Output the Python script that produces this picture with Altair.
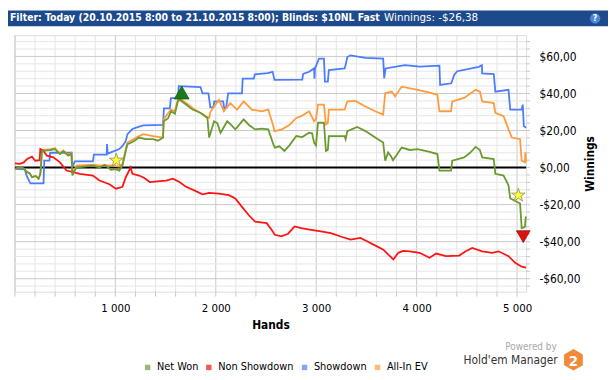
import altair as alt
import pandas as pd

# ---------------- data ----------------
SERIES = ["Net Won", "Non Showdown", "Showdown", "All-In EV"]
COLORS = ["#6b9a2e", "#ff1414", "#4a7cff", "#ff9b3d"]

net_hands = [0, 49, 88, 121, 147, 170, 206, 236, 253, 261, 269, 305, 351, 400, 423, 449, 482, 531, 563, 573,
             590, 613, 688, 777, 842, 895, 956, 1003, 1039, 1071, 1104, 1121, 1160, 1187, 1236, 1300, 1376, 1425,
             1475, 1481, 1524, 1556, 1593, 1622, 1639, 1704, 1769, 1851, 1917, 1934, 1983, 2015, 2048, 2114, 2153,
             2195, 2278, 2330, 2392, 2457, 2523, 2573, 2588, 2634, 2684, 2733, 2802, 2861, 2929, 2959, 2979, 2998,
             3018, 3077, 3097, 3116, 3126, 3283, 3293, 3310, 3408, 3490, 3588, 3667, 3687, 3716, 3746, 3765, 3851,
             3933, 4011, 4129, 4207, 4227, 4342, 4355, 4473, 4532, 4588, 4630, 4653, 4768, 4784, 4866, 4915, 4932,
             4964, 5030, 5046, 5079, 5085, 5090]
net_vals = [-0.7, 0, -0.5, -2.5, -3, -5.2, -4.5, -6, -3.4, 2, 9, 9.2, 9.4, 10, 8.5, 7.3, 8.8, 6.4, 7.5, -4.3,
            -2, 0, 0.5, 1, 0, 1.5, -1.2, -0.8, -1.6, 1, 9, 12.6, 13.5, 14.4, 16.2, 15.3, 15.3, 14.5,
            16.2, 25, 26.5, 30.4, 29, 35.7, 36.6, 34, 31.3, 29.5, 26.8, 16.2, 25, 24, 18.8, 25, 23,
            20.6, 26, 23, 20.6, 21, 20.6, 12.6, 10.8, 11.5, 9, 12, 17, 16.5, 18.8, 18.5, 13.5, 12,
            24.2, 24.2, 9, 9.5, 17, 17, 15.3, 19.7, 21.9, 19.7, 16.2, 13.5, 3.7, 8.2, 6, 4, 10.8,
            9.5, 10, 8.5, 7.3, -1.6, -1.6, 3.7, 5.5, 8, 11.2, 9.5, 5.5, 4.6, -3.4, -4.3, -9.6, -16.7,
            -17.5, -19.4, -32.7, -32, -27.4, -26.4]

nsd_hands = [0, 49, 88, 121, 170, 203, 246, 253, 285, 318, 383, 449, 514, 580, 646, 777, 842, 941, 1006, 1071,
             1104, 1153, 1170, 1236, 1285, 1344, 1442, 1507, 1573, 1639, 1704, 1786, 1868, 1934, 2032, 2130,
             2195, 2261, 2327, 2392, 2507, 2556, 2588, 2654, 2720, 2785, 2851, 2949, 3047, 3146, 3244, 3342,
             3440, 3506, 3571, 3669, 3768, 3817, 3866, 3932, 4030, 4129, 4194, 4293, 4424, 4489, 4554, 4653,
             4751, 4817, 4915, 4981, 5046, 5090]
nsd_vals = [2.3, 2, 2.8, 4.6, 5.9, 3.7, 4, 10, 9, 6.4, 5.5, 2.8, -1.6, -2.5, -3.4, -4.3, -7, -9, -11.4, -10.4,
            -5.2, 0, -3.4, -4.3, -5.5, -7.8, -7.3, -7, -6, -7.8, -10.4, -12.3, -14.4, -13.7, -14, -14.9,
            -16.7, -21.2, -25.6, -29.2, -30, -33.6, -36.3, -37.1, -35.7, -31.8, -32.7, -33.6, -34.5, -35.4, -37.2, -38.9,
            -38, -39.8, -41.6, -44.3, -49.6, -46, -45, -45.2, -46, -48.7, -46.4, -47.8, -47.5, -45.2, -43.4, -45.2,
            -46, -45.2, -47.8, -51.4, -53.5, -54]

sd_hands = [0, 98, 118, 154, 285, 292, 344, 351, 563, 573, 597, 777, 786, 914, 917, 924, 1039, 1071, 1101, 1121,
            1170, 1229, 1278, 1475, 1484, 1543, 1553, 1622, 1632, 1848, 1868, 1927, 1946, 1976, 1986, 2074, 2084,
            2104, 2123, 2261, 2268, 2379, 2389, 2517, 2566, 2585, 2861, 2870, 2929, 2979, 2983, 2988, 3028, 3077,
            3087, 3116, 3126, 3283, 3293, 3310, 3342, 3490, 3667, 3677, 3691, 3883, 4030, 4227, 4234, 4345, 4374,
            4404, 4620, 4650, 4653, 4768, 4784, 4915, 4932, 5046, 5057, 5067, 5090]
sd_vals = [-0.7, -1, -4.5, -8.5, -8.5, 3.7, 3.7, 8, 8, 0.5, 3.4, 3.4, 7, 7, 12.7, 7.5, 10, 11.7, 14, 18,
           20.8, 22, 22.8, 23, 32, 32, 37.5, 37.5, 44, 43.5, 40, 40, 32.5, 32.5, 35.7, 35.7, 32,
           32.5, 40, 40, 48, 48, 50.3, 51, 51.7, 47.3, 47.5, 50.5, 51.7, 53.5, 48, 53.5, 58.8, 58.8,
           46.4, 46.4, 52.6, 53.5, 55.3, 59.7, 60.6, 59.2, 58.8, 48.2, 53.5, 55.3, 54.5, 55, 44.6, 45.5, 50,
           52, 54.4, 55.3, 50.8, 50.5, 41, 42, 31.3, 31.3, 34, 22.4, 21.5]

ev_hands = [0, 49, 88, 121, 147, 170, 206, 236, 253, 261, 269, 305, 351, 400, 423, 449, 482, 531, 563, 573,
            613, 777, 836, 953, 1039, 1071, 1104, 1121, 1187, 1236, 1278, 1376, 1475, 1481, 1553, 1593, 1622,
            1639, 1701, 1769, 1848, 1934, 1946, 1983, 2032, 2081, 2143, 2212, 2278, 2359, 2457, 2523, 2573,
            2585, 2654, 2733, 2802, 2861, 2929, 2979, 2998, 3018, 3077, 3097, 3116, 3126, 3283, 3293, 3310,
            3391, 3490, 3588, 3667, 3687, 3752, 3785, 3851, 4011, 4129, 4207, 4227, 4342, 4355, 4473, 4588,
            4630, 4653, 4768, 4784, 4866, 4915, 4948, 5030, 5046, 5079, 5082, 5090]
ev_vals = [-0.7, 0, -0.5, -2.5, -3, -5.2, -4.5, -6, -3.4, 2, 9.5, 9.7, 9.9, 10.5, 9, 7.8, 9.3, 6.9, 8, -3.5,
           1, 1.6, 1.2, 1.2, 0.5, 2, 10, 13.5, 15.5, 17, 18, 17, 16.2, 26, 31.3, 30.5, 36.6,
           37.5, 35, 32.2, 29.5, 26.8, 30, 33, 36.6, 30.4, 34.8, 31.3, 35.7, 31.3, 30.4, 31.3, 22.4,
           19.7, 20.5, 23, 26.8, 28, 30.4, 25, 26, 34, 34, 23.3, 24, 31.3, 31.3, 33, 35.7,
           36, 33, 30.4, 28.6, 40.2, 41, 38.4, 43.7, 42, 40.5, 39.3, 30.4, 30.4, 35.7, 37.6, 42,
           41, 35.7, 34.8, 29.5, 27.7, 20.6, 16.2, 15.3, 3.7, 2.8, 8.2, 3]

# event markers: green up-triangle, yellow stars, red down-triangle
marker_kinds = ["up", "star", "star", "down"]
marker_hands = [1661, 1010, 5013, 5062]
marker_vals = [40.5, 3.9, -15, -37.3]

x_ticks = list(range(0, 5001, 200))      # minor grid / ticks
y_ticks = list(range(-64, 69, 4))
x_labels = [1000, 2000, 3000, 4000, 5000]  # labelled (major) values
y_labels = [-60, -40, -20, 0, 20, 40, 60]

TITLE_BOLD = "Filter: Today (20.10.2015 8:00 to 21.10.2015 8:00); Blinds: $10NL Fast"
TITLE_NORMAL = "Winnings: -$26,38"

# ---------------- frames ----------------
rows = []
for name, hs, vs in [("Net Won", net_hands, net_vals), ("Non Showdown", nsd_hands, nsd_vals),
                     ("Showdown", sd_hands, sd_vals), ("All-In EV", ev_hands, ev_vals)]:
    for h, v in zip(hs, vs):
        rows.append({"hand": h, "value": v, "series": name})
df = pd.DataFrame(rows)
mk = pd.DataFrame({"kind": marker_kinds, "hand": marker_hands, "value": marker_vals})

FONT = "DejaVu Sans Condensed"
W, H = 518, 260

xscale = alt.Scale(domain=[0, 5090], nice=False, zero=False)
yscale = alt.Scale(domain=[-67, 71.5], nice=False, zero=False)
cscale = alt.Scale(domain=SERIES, range=COLORS)

xaxis = alt.Axis(
    values=x_labels, title="Hands", titleFont=FONT, titleFontSize=12, titleFontWeight="bold",
    titleColor="#000", titlePadding=6, grid=False, labelOverlap=False, ticks=False,
    labelExpr="replace(format(datum.value, ','), ',', ' ')",
    labelFont=FONT, labelFontSize=11.5, labelColor="#000", labelPadding=11, domain=False,
)
yaxis = alt.Axis(
    values=y_labels, orient="right", title="Winnings", titleFont=FONT, titleFontSize=12,
    titleFontWeight="bold", titleColor="#000", titleAngle=270, titleX=64, titleY=130,
    titleAlign="center", titleBaseline="middle", grid=False, labelOverlap=False, ticks=False,
    labelExpr="(datum.value < 0 ? '-' : '') + '$' + format(abs(datum.value), 'd') + ',00'",
    labelFont=FONT, labelFontSize=12, labelColor="#000", labelPadding=13, domain=False,
)

base = alt.Chart(df).encode(
    x=alt.X("hand:Q", scale=xscale, axis=xaxis),
    y=alt.Y("value:Q", scale=yscale, axis=yaxis),
)

# grid lines and small tick marks from the tick lists (major every 1000 hands / $20)
gx = alt.Chart(pd.DataFrame({"hand": x_ticks}))
gy = alt.Chart(pd.DataFrame({"value": y_ticks}))
grid_x = gx.mark_rule(strokeWidth=1).encode(
    x=alt.X("hand:Q", scale=xscale, axis=xaxis),
    color=alt.condition("datum.hand % 1000 === 0", alt.value("#c9c9c9"), alt.value("#e6e6e6")))
grid_y = gy.mark_rule(strokeWidth=1).encode(
    y=alt.Y("value:Q", scale=yscale, axis=yaxis),
    color=alt.condition("datum.value % 20 === 0", alt.value("#c9c9c9"), alt.value("#e6e6e6")))
tick_x = gx.mark_rule(strokeWidth=1, color="#c8c8c8").encode(
    x=alt.X("hand:Q", scale=xscale, axis=xaxis), y=alt.value(H), y2=alt.value(H + 5))
tick_y = gy.mark_rule(strokeWidth=1, color="#c8c8c8").encode(
    y=alt.Y("value:Q", scale=yscale, axis=yaxis), x=alt.value(W), x2=alt.value(W + 4))

one = alt.Data(values=[{"a": 1}])
zero_line = alt.Chart(one).mark_rule(color="#000", strokeWidth=2).encode(y=alt.datum(0, scale=yscale))

line_layers = []
for name in ["Showdown", "All-In EV", "Non Showdown", "Net Won"]:
    line_layers.append(
        base.transform_filter(alt.datum.series == name)
        .mark_line(strokeWidth=1.8, interpolate="linear")
        .encode(color=alt.Color("series:N", scale=cscale, legend=None))
    )

legend_layer = base.transform_filter("false").mark_point(filled=True, shape="square").encode(
    fill=alt.Fill("series:N", scale=alt.Scale(domain=SERIES, range=["#6a9a3a", "#ee1111", "#4f7ff0", "#ffa040"]),
                  legend=alt.Legend(orient="none", legendX=129, legendY=331, direction="horizontal", title=None,
                                    symbolType="square", symbolSize=30, symbolStrokeWidth=0,
                                    labelFont=FONT, labelFontSize=11, labelColor="#000",
                                    labelOffset=4, columnPadding=5))
)

STAR = "M0,-1L0.2245,-0.309L0.951,-0.309L0.363,0.118L0.588,0.809L0,0.382L-0.588,0.809L-0.363,0.118L-0.951,-0.309L-0.2245,-0.309Z"
mbase = alt.Chart(mk).encode(x=alt.X("hand:Q", scale=xscale), y=alt.Y("value:Q", scale=yscale))
up = mbase.transform_filter(alt.datum.kind == "up").mark_point(
    shape="triangle-up", filled=True, size=225, color="#1b7a1b", stroke="#0f5a0f", strokeWidth=0.8, opacity=1)
down = mbase.transform_filter(alt.datum.kind == "down").mark_point(
    shape="triangle-down", filled=True, size=190, color="#e01010", stroke="#901010", strokeWidth=0.8, opacity=1)
star = mbase.transform_filter(alt.datum.kind == "star").mark_point(
    shape=STAR, filled=True, size=210, color="#ffff30", stroke="#8a8a60", strokeWidth=0.8, opacity=1)

# ---------------- decorations ----------------
band = alt.Chart(one).mark_rect(color="#1d4a8c").encode(
    x=alt.value(-7), x2=alt.value(601), y=alt.value(-25), y2=alt.value(-9))
t_bold = alt.Chart(one).mark_text(text=TITLE_BOLD, font=FONT, fontSize=10.5, fontWeight="bold", color="#fff",
                                  align="left", baseline="middle").encode(x=alt.value(-5), y=alt.value(-17))
t_norm = alt.Chart(one).mark_text(text=TITLE_NORMAL, font="DejaVu Sans", fontSize=10.5, color="#fff",
                                  align="left", baseline="middle").encode(x=alt.value(374), y=alt.value(-17))
help_c = alt.Chart(one).mark_point(shape="circle", filled=True, size=110, color="#4d86d6", opacity=1).encode(
    x=alt.value(588), y=alt.value(-17))
help_t = alt.Chart(one).mark_text(text="?", font=FONT, fontSize=9, fontWeight="bold", color="#fff",
                                  baseline="middle").encode(x=alt.value(588), y=alt.value(-17))

HEX = "M0,-1L0.866,-0.5L0.866,0.5L0,1L-0.866,0.5L-0.866,-0.5Z"
powered = alt.Chart(one).mark_text(text="Powered by", font=FONT, fontSize=10, color="#a8a8a8",
                                  align="right", baseline="middle").encode(x=alt.value(549), y=alt.value(316))
hm = alt.Chart(one).mark_text(text="Hold'em Manager", font=FONT, fontSize=12, color="#333",
                              align="right", baseline="middle").encode(x=alt.value(550), y=alt.value(329))
hexa = alt.Chart(one).mark_point(shape=HEX, filled=True, size=480, color="#f08a3a", opacity=1).encode(
    x=alt.value(566), y=alt.value(329))
two = alt.Chart(one).mark_text(text="2", font=FONT, fontSize=15, fontWeight="bold", color="#fff",
                               baseline="middle").encode(x=alt.value(566), y=alt.value(330))

chart = alt.layer(
    grid_x, grid_y, tick_x, tick_y,
    base.mark_line(opacity=0).encode(detail="series:N"),
    zero_line, *line_layers, legend_layer, up, star, down,
    band, t_bold, t_norm, help_c, help_t, powered, hm, hexa, two,
).resolve_scale(color="independent", fill="independent").properties(
    width=W, height=H,
    autosize=alt.AutoSizeParams(type="none"),
    padding={"left": 7, "top": 25, "right": 83, "bottom": 87},
).configure_view(stroke="#c8c8c8", strokeWidth=1).configure(background="#ffffff")

chart.save("out.html", embed_options={"renderer": "svg", "actions": False})
